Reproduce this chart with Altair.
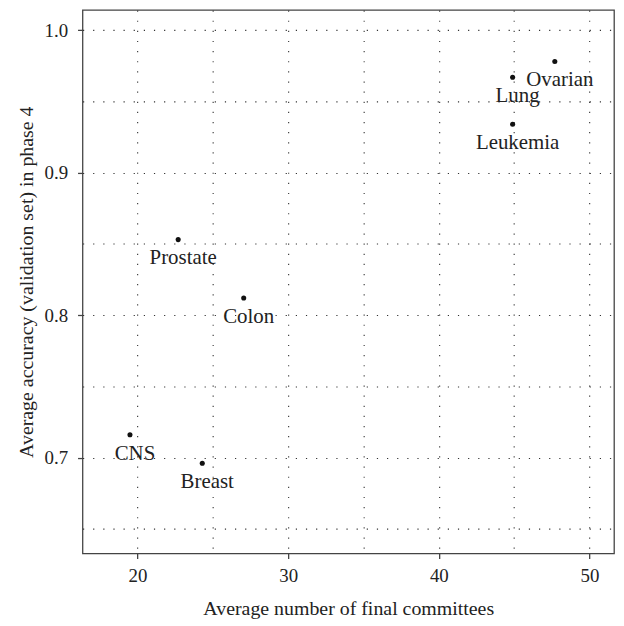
import altair as alt
import pandas as pd

names = ["Ovarian", "Lung", "Leukemia", "Prostate", "Colon", "CNS", "Breast"]
committees = [47.7, 44.9, 44.9, 22.7, 27.05, 19.5, 24.3]
accuracy = [0.978, 0.967, 0.934, 0.853, 0.812, 0.716, 0.696]

x_grid = [20, 25, 30, 35, 40, 45, 50]
y_grid = [0.65, 0.70, 0.75, 0.80, 0.85, 0.90, 0.95, 1.00]

df = pd.DataFrame({"name": names, "committees": committees, "accuracy": accuracy})

font = "Liberation Serif"
x_scale = alt.Scale(domain=[16.35, 51.63], nice=False, zero=False)
y_scale = alt.Scale(domain=[0.6327, 1.0142], nice=False, zero=False)

major_y = "abs(datum.value*10 - round(datum.value*10)) < 0.001"

x_axis = alt.Axis(
    title="Average number of final committees",
    values=x_grid,
    labelExpr="datum.value % 10 === 0 ? datum.label : ''",
    tickSize={"condition": {"test": "datum.value % 10 === 0", "value": 5}, "value": 0},
    labelPadding=8,
    titlePadding=13,
)
y_axis = alt.Axis(
    title="Average accuracy (validation set) in phase 4",
    values=y_grid,
    labelExpr=major_y + " ? format(datum.value, '.1f') : ''",
    tickSize={"condition": {"test": major_y, "value": 5}, "value": 0},
    labelPadding=10,
    titlePadding=8,
)

base = alt.Chart(df)
points = base.mark_circle(size=26, color="#111", opacity=1).encode(
    x=alt.X("committees:Q", scale=x_scale, axis=x_axis),
    y=alt.Y("accuracy:Q", scale=y_scale, axis=y_axis),
)
labels = base.mark_text(font=font, fontSize=21, dx=5, dy=19, color="#222").encode(
    x="committees:Q", y="accuracy:Q", text="name:N"
)

chart = (
    alt.layer(points, labels)
    .properties(
        width=535,
        height=547,
        autosize="none",
        padding={"left": 75, "top": 0, "right": 2, "bottom": 66},
    )
    .configure_view(stroke="#444", strokeWidth=1.3)
    .configure_axis(
        domain=False,
        grid=True,
        gridColor="#333",
        gridDash=[1.2, 9],
        gridWidth=1.1,
        tickColor="#444",
        tickWidth=1.3,
        labelFont=font,
        labelFontSize=19,
        labelColor="#222",
        titleFont=font,
        titleFontSize=20,
        titleFontWeight="normal",
        titleColor="#222",
    )
)

chart.save("out.html", embed_options={"renderer": "svg", "actions": False})
